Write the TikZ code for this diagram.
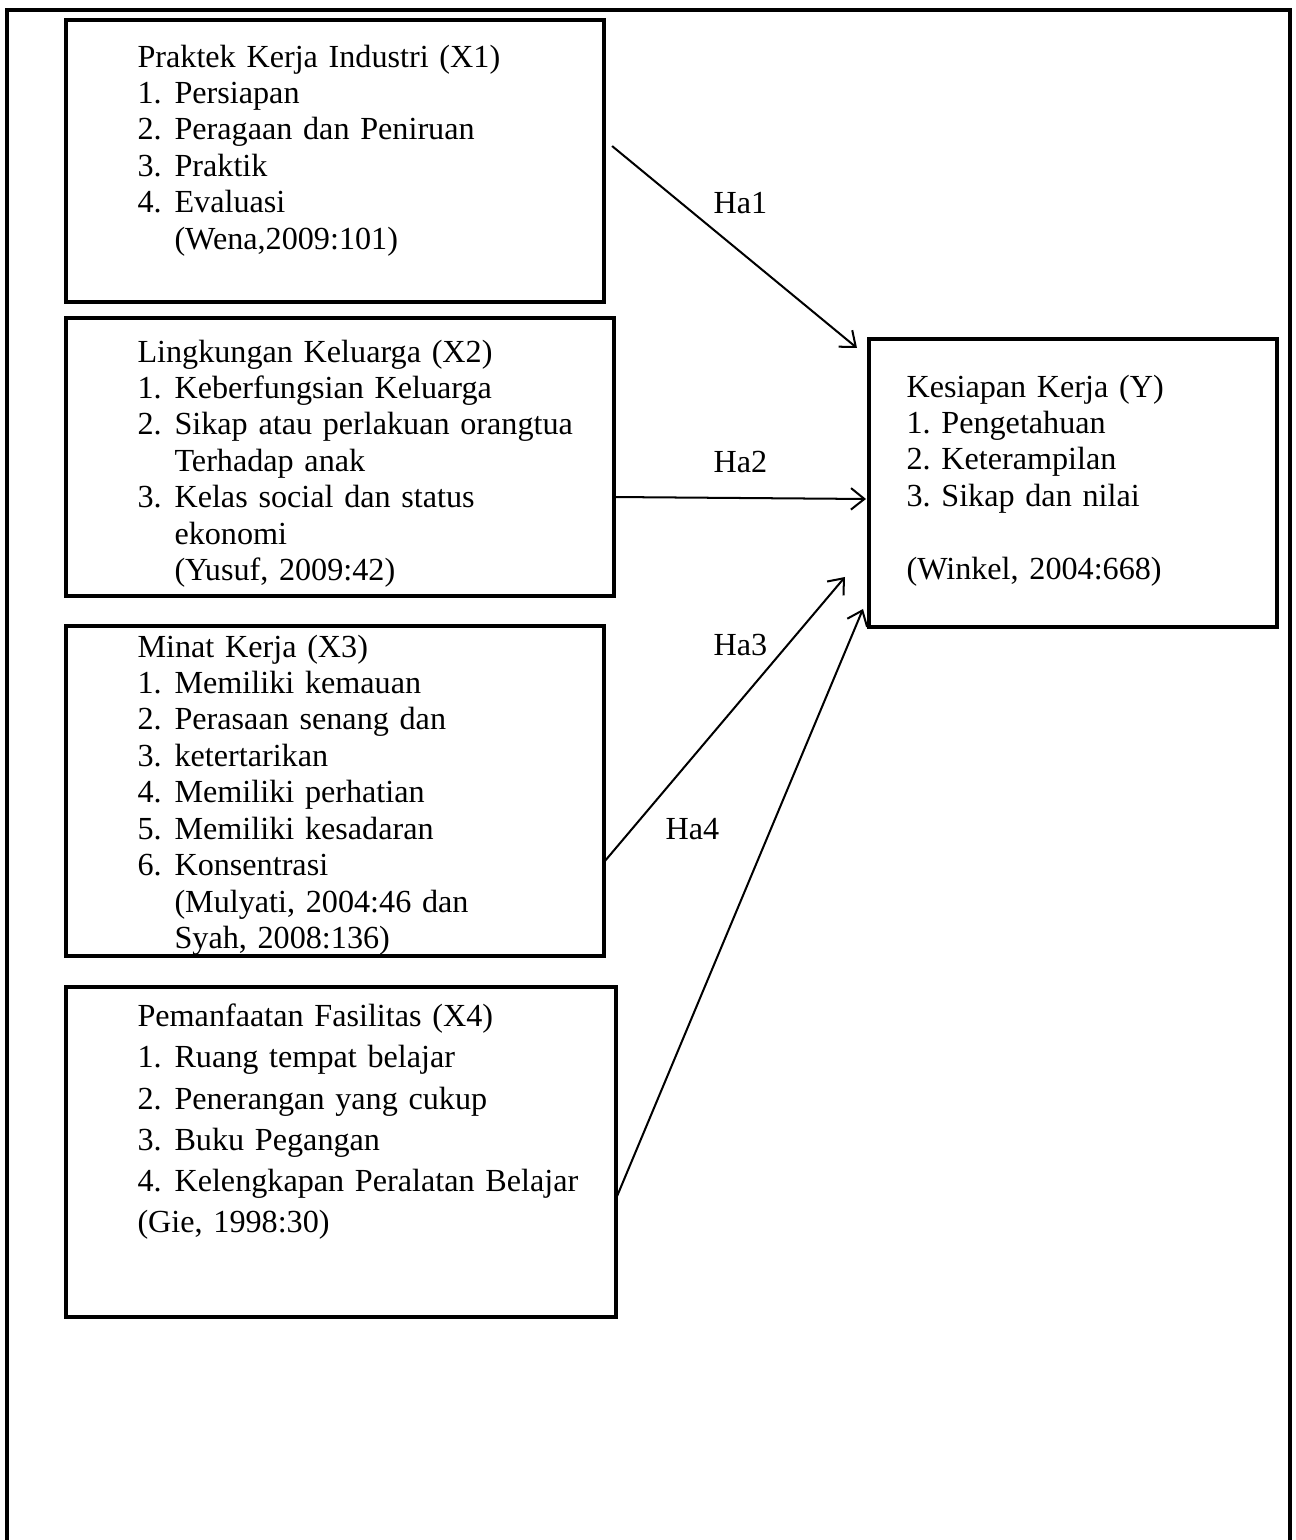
\documentclass[tikz,border=0pt]{standalone}
\usepackage{fontspec}
\setmainfont{Liberation Serif}
\usetikzlibrary{arrows.meta, positioning, calc}
\frenchspacing

\newcommand{\itm}[2]{\makebox[13.8pt][l]{#1}#2}
\newcommand{\ind}{\hspace*{13.8pt}}

\begin{document}
\begin{tikzpicture}[
    x=0.373pt, y=-0.373pt,
    frame/.style={line width=1.3pt},
    box/.style={rectangle, draw=black, line width=1.7pt, outer sep=0pt, inner sep=0pt, anchor=north west},
    list/.style={anchor=north west, inner sep=0pt, text width=205pt, align=left, font=\fontsize{12}{13.6}\selectfont},
    hyp/.style={anchor=base west, inner sep=0pt, font=\fontsize{12}{13.6}\selectfont},
    arrow/.style={-{Straight Barb[length=5pt, width=8pt]}, line width=0.75pt}
]
    % Page size
    \useasboundingbox (0,0) rectangle (1296,1540);

    % Outer frame (open at the bottom)
    \draw[frame] (7,1540) -- (7,10) -- (1290,10) -- (1290,1540);

    % Boxes
    \node[box, minimum width=200.7pt, minimum height=105.2pt] (x1) at (66,20) {};
    \node[box, minimum width=204.4pt, minimum height=103.7pt] (x2) at (66,318) {};
    \node[box, minimum width=200.7pt, minimum height=123.1pt] (x3) at (66,626) {};
    \node[box, minimum width=205.2pt, minimum height=123.1pt] (x4) at (66,987) {};
    \node[box, minimum width=152.2pt, minimum height=107.4pt] (y) at (869,339) {};

    % Texts
    \node[list] (x1txt) at ($(x1.north west)+(71,21)$) {\strut Praktek Kerja Industri (X1)\\
        \itm{1.}{Persiapan}\\
        \itm{2.}{Peragaan dan Peniruan}\\
        \itm{3.}{Praktik}\\
        \itm{4.}{Evaluasi}\\
        \ind(Wena,2009:101)};
    \node[list] (x2txt) at ($(x2.north west)+(71,18)$) {\strut Lingkungan Keluarga (X2)\\
        \itm{1.}{Keberfungsian Keluarga}\\
        \itm{2.}{Sikap atau perlakuan orangtua}\\
        \ind Terhadap anak\\
        \itm{3.}{Kelas social dan status}\\
        \ind ekonomi\\
        \ind(Yusuf, 2009:42)};
    \node[list] (x3txt) at ($(x3.north west)+(71,5)$) {\strut Minat Kerja (X3)\\
        \itm{1.}{Memiliki kemauan}\\
        \itm{2.}{Perasaan senang dan}\\
        \itm{3.}{ketertarikan}\\
        \itm{4.}{Memiliki perhatian}\\
        \itm{5.}{Memiliki kesadaran}\\
        \itm{6.}{Konsentrasi}\\
        \ind(Mulyati, 2004:46 dan\\
        \ind Syah, 2008:136)};
    \node[list, font=\fontsize{12}{15.4}\selectfont] (x4txt) at ($(x4.north west)+(71,10)$) {\strut Pemanfaatan Fasilitas (X4)\\
        \itm{1.}{Ruang tempat belajar}\\
        \itm{2.}{Penerangan yang cukup}\\
        \itm{3.}{Buku Pegangan}\\
        \itm{4.}{Kelengkapan Peralatan Belajar}\\
        (Gie, 1998:30)};
    \node[list, text width=150pt] (ytxt) at ($(y.north west)+(37,32)$) {\strut Kesiapan Kerja (Y)\\
        1. Pengetahuan\\
        2. Keterampilan\\
        3. Sikap dan nilai\\[13.6pt]
        (Winkel, 2004:668)};

    % Hypothesis arrows
    \draw[arrow] ($(x1.east)+(8,-15)$) -- ($(y.west)+(-12,-135)$);
    \draw[arrow] ($(x2.east)+(0,40)$) -- ($(y.west)+(-3,16)$);
    \draw[arrow] ($(x3.east)+(0,71)$) -- ($(y.west)+(-24,94)$);
    \draw[arrow] ($(x4.east)+(1,44)$) -- ($(y.west)+(-6,126)$);

    % Labels
    \node[hyp] (ha1) at (713,213) {Ha1};
    \node[hyp] (ha2) at (713,472) {Ha2};
    \node[hyp] (ha3) at (713,655) {Ha3};
    \node[hyp] (ha4) at (665,839) {Ha4};

\end{tikzpicture}
\end{document}
